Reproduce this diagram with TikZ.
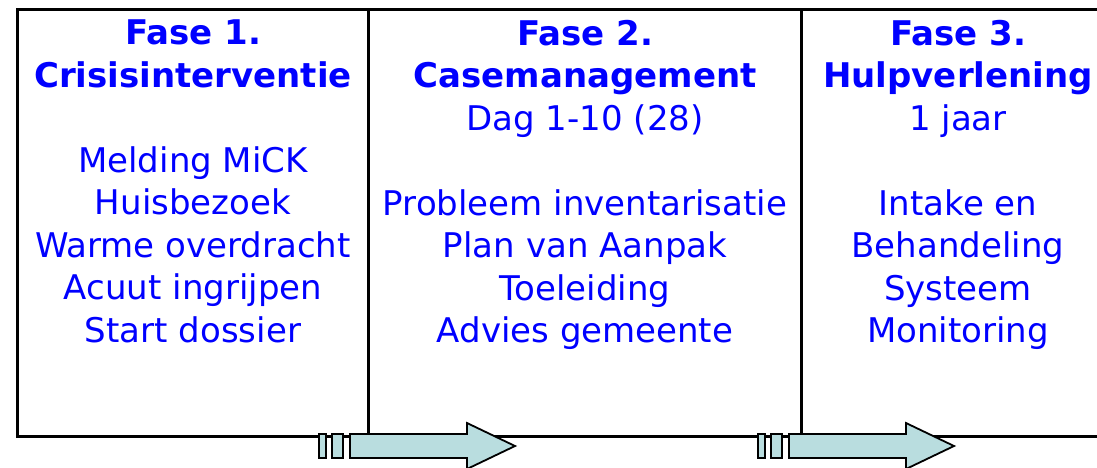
\documentclass[tikz,border=0pt]{standalone}
\usepackage{fontspec}
\setmainfont{DejaVu Sans}
\usepackage{tikz}
\definecolor{pijlkleur}{RGB}{185,221,223}

\begin{document}
\begin{tikzpicture}[x=1pt,y=-1pt,
	fase/.style = {align=center, text=blue, inner sep=0pt, anchor=north, font=\fontsize{34}{42.5}\selectfont},
	lijn/.style = {line width=3pt},
	pijl/.style = {draw=black, line width=1.8pt, fill=pijlkleur}]
	\useasboundingbox (0,0) rectangle (1097,467);
	% kader en scheidingen
	\draw[lijn] (1097,9) -- (17,9) -- (17,436) -- (1097,436);
	\draw[lijn] (368,9) -- (368,436);
	\draw[lijn] (801,9) -- (801,436);
	% tekst per fase
	\node[fase] (f1) at (193,20) {\textbf{Fase 1.}\\ \textbf{Crisisinterventie}\\[42.5pt] Melding MiCK\\ Huisbezoek\\ Warme overdracht\\ Acuut ingrijpen\\ Start dossier};
	\node[fase] (f2) at (585,20) {\textbf{Fase 2.}\\ \textbf{Casemanagement}\\ Dag 1-10 (28)\\[42.5pt] Probleem inventarisatie\\ Plan van Aanpak\\ Toeleiding\\ Advies gemeente};
	\node[fase] (f3) at (958,20) {\textbf{Fase 3.}\\ \textbf{Hulpverlening}\\ 1 jaar\\[42.5pt] Intake en\\ Behandeling\\ Systeem\\ Monitoring};
	% pijlen
	\foreach \dx in {0,439} {
		\draw[pijl] (319+\dx,434) rectangle (326+\dx,458);
		\draw[pijl] (332+\dx,434) rectangle (343+\dx,458);
		\draw[pijl] (350+\dx,434) -- (467+\dx,434) -- (467+\dx,423) -- (515+\dx,446)
			-- (467+\dx,469) -- (467+\dx,458) -- (350+\dx,458) -- cycle;
	}
\end{tikzpicture}
\end{document}
